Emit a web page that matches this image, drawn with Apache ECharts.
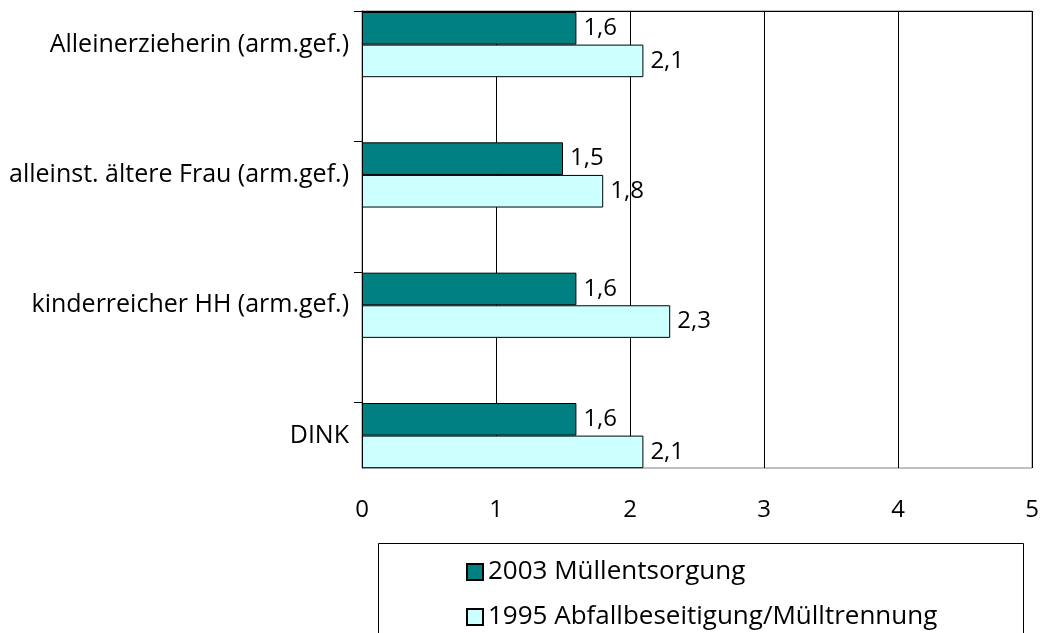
<!DOCTYPE html>
<html>
<head>
<meta charset="utf-8">
<script src="https://cdn.jsdelivr.net/npm/echarts@6/dist/echarts.min.js"></script>
<style>
html,body{margin:0;padding:0;background:#fff;}
#chart{width:1047px;height:633px;}
</style>
</head>
<body>
<div id="chart"></div>
<script>
const categories = [
  'Alleinerzieherin (arm.gef.)',
  'alleinst. ältere Frau (arm.gef.)',
  'kinderreicher HH (arm.gef.)',
  'DINK'
];
const series2003 = [1.6, 1.5, 1.6, 1.6];
const series1995 = [2.1, 1.8, 2.3, 2.1];
const seriesNames = ['2003 Müllentsorgung', '1995 Abfallbeseitigung/Mülltrennung'];
const xTicks = [0, 1, 2, 3, 4, 5];

const FONT = 'Open Sans';
const chart = echarts.init(document.getElementById('chart'));

const labelCfg = {
  show: true,
  position: 'right',
  distance: 7,
  fontFamily: FONT,
  fontSize: 24,
  color: '#000',
  formatter: p => String(p.value).replace('.', ',')
};

const legendBase = {
  orient: 'vertical', left: 461,
  itemWidth: 16, itemHeight: 16, icon: 'rect',
  textStyle: { fontFamily: FONT, fontSize: 26, color: '#000' }
};

chart.setOption({
  animation: false,
  backgroundColor: '#fff',
  textStyle: { fontFamily: FONT },
  grid: [
    { left: 362, right: 15, top: 11, bottom: 165, show: true, borderColor: '#808080', borderWidth: 1, backgroundColor: 'transparent' },
    { left: 362, right: 15, top: 44.6, bottom: 197.4 }
  ],
  xAxis: [
    {
      gridIndex: 0, type: 'value', min: xTicks[0], max: xTicks[xTicks.length - 1], interval: 1,
      axisLine: { show: true, lineStyle: { color: '#000', width: 1 } },
      axisTick: { show: true, length: 9, lineStyle: { color: '#000' } },
      axisLabel: { fontFamily: FONT, fontSize: 24, color: '#000', margin: 30 },
      splitLine: { show: true, lineStyle: { color: '#000', width: 1 } }
    },
    { gridIndex: 1, type: 'value', min: 0, max: 5, show: false }
  ],
  yAxis: [
    {
      gridIndex: 0, type: 'value', min: 0, max: 3.5, interval: 1, inverse: true,
      axisLine: { show: true, lineStyle: { color: '#000', width: 1 } },
      axisTick: { show: true, length: 8, customValues: [0, 1, 2, 3], lineStyle: { color: '#000' } },
      axisLabel: { show: false },
      splitLine: { show: false }
    },
    {
      gridIndex: 1, type: 'category', data: categories, inverse: true, boundaryGap: false,
      axisLine: { show: false }, axisTick: { show: false }, splitLine: { show: false },
      axisLabel: { fontFamily: FONT, fontSize: 25, color: '#000', margin: 13 }
    }
  ],
  legend: [
    Object.assign({}, legendBase, { top: 554, data: [seriesNames[0]] }),
    Object.assign({}, legendBase, { top: 599, data: [seriesNames[1]] })
  ],
  graphic: [
    { type: 'rect', shape: { x: 378.5, y: 543.5, width: 645, height: 120 }, style: { fill: 'none', stroke: '#000', lineWidth: 1 }, z: 10 }
  ],
  series: [
    {
      name: seriesNames[0], type: 'bar', xAxisIndex: 1, yAxisIndex: 1, data: series2003,
      barWidth: 32.6, barGap: '0%', clip: false,
      itemStyle: { color: '#008080', borderColor: '#000', borderWidth: 1 },
      label: labelCfg
    },
    {
      name: seriesNames[1], type: 'bar', xAxisIndex: 1, yAxisIndex: 1, data: series1995,
      barWidth: 32.6, barGap: '0%', clip: false,
      itemStyle: { color: '#CCFFFF', borderColor: '#000', borderWidth: 1 },
      label: labelCfg
    }
  ]
});
</script>
</body>
</html>
